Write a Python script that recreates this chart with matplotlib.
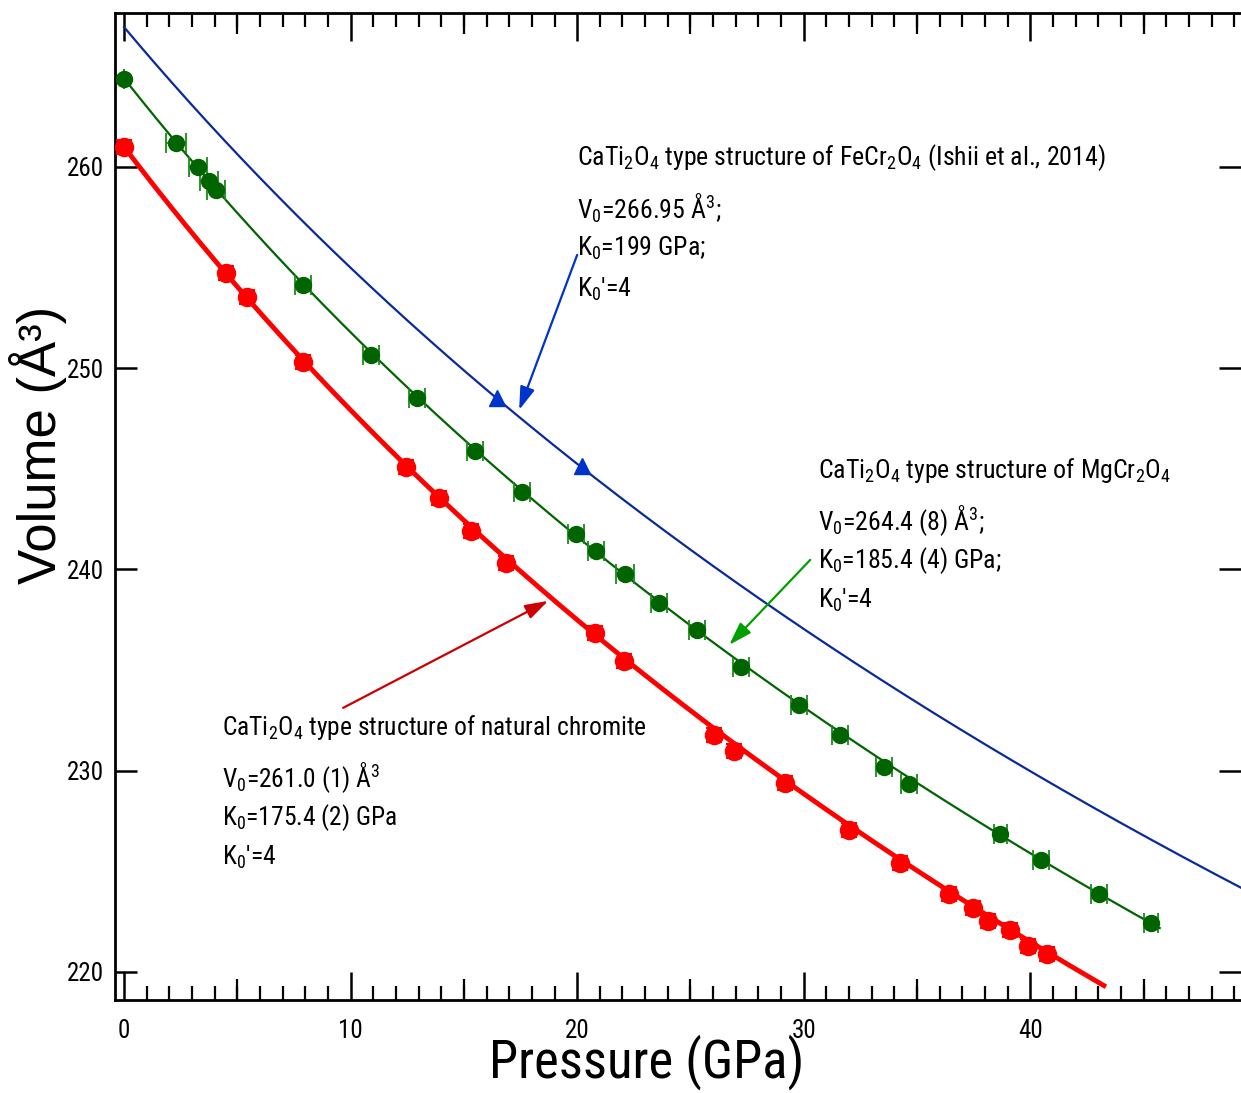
import matplotlib
matplotlib.use("Agg")
import matplotlib.pyplot as plt
from matplotlib import font_manager as fm
import numpy as np

# ---------- font selection: prefer a narrow sans ----------
names = {f.name for f in fm.fontManager.ttflist}
NARROW = None
NARROW_STRETCH = 'normal'
for cand in ['Liberation Sans Narrow', 'Arial Narrow', 'Roboto Condensed',
             'Open Sans Condensed', 'Noto Sans Condensed', 'DejaVu Sans Condensed']:
    if cand in names:
        NARROW = cand
        break
if NARROW is None:
    cond = [f for f in fm.fontManager.ttflist
            if f.stretch in ('condensed', 'semi-condensed', 'extra-condensed')
            and f.style == 'normal' and f.weight in (400, 'normal', 'regular')]
    pref = ['Liberation Sans', 'Roboto', 'Open Sans', 'Noto Sans', 'Lato', 'Inter', 'DejaVu Sans']
    cond.sort(key=lambda f: (pref.index(f.name) if f.name in pref else 99))
    if cond:
        NARROW = cond[0].name
        NARROW_STRETCH = cond[0].stretch
if NARROW is None:
    NARROW = 'Liberation Sans'

plt.rcParams['font.family'] = [NARROW, 'Liberation Sans', 'DejaVu Sans']
plt.rcParams['font.stretch'] = NARROW_STRETCH
plt.rcParams['mathtext.fontset'] = 'custom'
pat = NARROW if NARROW_STRETCH == 'normal' else f'{NARROW}:{NARROW_STRETCH}'
plt.rcParams['mathtext.rm'] = pat
plt.rcParams['mathtext.it'] = pat
plt.rcParams['mathtext.bf'] = pat

# ---------- data: MgCr2O4 (green) ----------
green_p = [0.0, 2.30, 3.27, 3.75, 4.06, 7.90, 10.90, 12.94, 15.50, 17.57, 19.96, 20.84,
           22.12, 23.62, 25.30, 27.24, 29.80, 31.61, 33.55, 34.66, 38.68, 40.49, 43.05, 45.34]
green_v = [264.37, 261.19, 260.00, 259.30, 258.86, 254.14, 250.66, 248.52, 245.89, 243.85,
           241.76, 240.92, 239.78, 238.33, 236.99, 235.16, 233.27, 231.78, 230.19, 229.34,
           226.86, 225.57, 223.88, 222.44]
green_perr = [0.0, 0.45, 0.4, 0.4, 0.4, 0.35, 0.35, 0.35, 0.35, 0.35, 0.35, 0.35,
              0.4, 0.35, 0.35, 0.35, 0.35, 0.35, 0.35, 0.35, 0.3, 0.35, 0.35, 0.3]

# ---------- data: natural chromite (red) ----------
red_p = [0.0, 4.50, 5.43, 7.90, 12.45, 13.91, 15.32, 16.87, 20.80, 22.08, 26.05, 26.93,
         29.18, 32.01, 34.26, 36.42, 37.48, 38.15, 39.12, 39.91, 40.75]
red_v = [261.0, 254.73, 253.54, 250.31, 245.09, 243.55, 241.91, 240.32, 236.84, 235.45,
         231.78, 230.98, 229.39, 227.06, 225.42, 223.88, 223.18, 222.53, 222.09, 221.29, 220.89]

# ---------- EOS parameters shown on the chart (V0, K0, K0', max P of curve) ----------
eos_fecr = [266.95, 199.0, 4.0, 49.4]
eos_mgcr = [264.4, 185.4, 4.0, 45.8]
eos_nat = [261.0, 175.4, 4.0, 43.3]

blue_tri_p = [16.47, 20.22]
blue_tri_v = [248.52, 245.14]

x_ticks = [0, 10, 20, 30, 40]
y_ticks = [220, 230, 240, 250, 260]

GREEN = '#006400'
RED = '#ff0000'
NAVY = '#0a2a9a'


def bm3_curve(params):
    v0, k0, kp, pmax = params
    v = np.linspace(v0, v0 * 0.80, 800)
    x = v0 / v
    p = 1.5 * k0 * (x ** (7 / 3) - x ** (5 / 3)) * (1 + 0.75 * (kp - 4) * (x ** (2 / 3) - 1))
    m = p <= pmax
    return p[m], v[m]


fig = plt.figure(figsize=(12.41, 10.93), dpi=100)
ax = fig.add_axes([115 / 1241, 1 - 1000 / 1093, 1 - 115 / 1241, (1000 - 13) / 1093])

bp, bv = bm3_curve(eos_fecr)
ax.plot(bp, bv, color=NAVY, lw=1.6, zorder=2)
ax.plot(blue_tri_p, blue_tri_v, linestyle='none', marker='^', ms=11, color='#0033cc', zorder=3)

gp, gv = bm3_curve(eos_mgcr)
ax.plot(gp, gv, color=GREEN, lw=1.6, zorder=2)
ax.errorbar(green_p, green_v, xerr=green_perr, fmt='o', ms=11.5, color=GREEN,
            ecolor='#1a8a1a', elinewidth=1.3, capsize=7, capthick=1.3, zorder=4)

rp, rv = bm3_curve(eos_nat)
ax.plot(rp, rv, color=RED, lw=3.5, zorder=2)
ax.errorbar(red_p, red_v, xerr=0.2, yerr=0.35, fmt='o', ms=13, color=RED,
            ecolor=RED, elinewidth=1.5, capsize=6, capthick=1.5, zorder=4)

ax.set_xlim(-0.4, 49.3)
ax.set_ylim(218.6, 267.65)

for s in ['left', 'bottom', 'top']:
    ax.spines[s].set_linewidth(2)
ax.spines['right'].set_visible(False)

renderer = fig.canvas.get_renderer()


def size_for(text, target_w, base=20, **kw):
    t = fig.text(0, 0, text, fontsize=base, **kw)
    w = t.get_window_extent(renderer).width
    t.remove()
    return base * target_w / w


tick_fs = size_for('260', 37)

ax.set_xticks(x_ticks)
ax.set_xticks(np.arange(0, 50, 1), minor=True)
ax.set_yticks(y_ticks)
ax.tick_params(axis='x', which='major', direction='in', length=20, width=1.8,
               top=True, bottom=True, labelsize=tick_fs, pad=14)
ax.tick_params(axis='x', which='minor', direction='in', length=10, width=1.6,
               top=True, bottom=True)
ax.tick_params(axis='y', which='major', direction='in', length=16, width=1.8,
               left=True, right=True, labelsize=tick_fs, pad=8)

for loc in ['bottom', 'top']:
    sec = ax.secondary_xaxis(loc)
    sec.set_xticks([5, 15, 25, 35, 45])
    sec.tick_params(direction='in', length=15, width=1.6, labelbottom=False, labeltop=False)
    for sp in sec.spines.values():
        sp.set_visible(False)

xl_fs = size_for('Pressure (GPa)', 315)
fig.text(647 / 1241, 1 - 1062 / 1093, 'Pressure (GPa)', fontsize=xl_fs,
         ha='center', va='center')
fig.text(38 / 1241, 1 - 445 / 1093, 'Volume (Å³)', rotation=90, fontsize=38,
         family=['Liberation Sans', 'DejaVu Sans'], stretch='normal',
         ha='center', va='center')


def px2d(px, py):
    return (px - 124) / 22.65, 260 - (py - 167) / 20.125


blocks = [
    (577, [158, 208, 248, 289], 527,
     [r'CaTi$_2$O$_4$ type structure of FeCr$_2$O$_4$ (Ishii et al., 2014)',
      r'V$_0$=266.95 Å$^3$;',
      r'K$_0$=199 GPa;',
      r"K$_0$'=4"]),
    (818, [471, 521, 561, 601], 352,
     [r'CaTi$_2$O$_4$ type structure of MgCr$_2$O$_4$',
      r'V$_0$=264.4 (8) Å$^3$;',
      r'K$_0$=185.4 (4) GPa;',
      r"K$_0$'=4"]),
    (222, [728, 778, 818, 858], 424,
     [r'CaTi$_2$O$_4$ type structure of natural chromite',
      r'V$_0$=261.0 (1) Å$^3$',
      r'K$_0$=175.4 (2) GPa',
      r"K$_0$'=4"]),
]
for x0, ys, tw, lines in blocks:
    fs = size_for(lines[0], tw)
    for y, t in zip(ys, lines):
        xd, yd = px2d(x0, y)
        ax.text(xd, yd, t, fontsize=fs, ha='left', va='center', zorder=5)

arrows = [((577, 255), (519, 410), '#0033cc'),
          ((810, 560), (729, 645), '#00a000'),
          ((343, 708), (548, 601), '#cc0000')]
for (sx, sy), (tx, ty), c in arrows:
    ax.annotate('', xy=px2d(tx, ty), xytext=px2d(sx, sy),
                arrowprops=dict(arrowstyle='-|>,head_length=1.4,head_width=0.45',
                                color=c, lw=1.6, shrinkA=0, shrinkB=0), zorder=5)

fig.savefig('out.png', dpi=100)
